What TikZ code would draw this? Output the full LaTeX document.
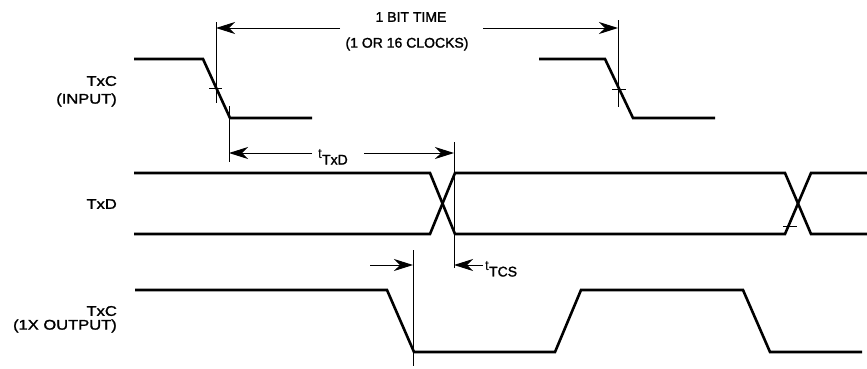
\documentclass[tikz,border=0pt]{standalone}
\usepackage{fontspec}
\setmainfont{Liberation Sans}[BoldFont={Liberation Sans},BoldFeatures={FakeBold=1.6}]
\newfontfamily\lblfont{Liberation Sans}[FakeStretch=1.18,BoldFont={Liberation Sans},BoldFeatures={FakeBold=1.6,FakeStretch=1.18}]
\usetikzlibrary{arrows.meta}
\begin{document}
\begin{tikzpicture}[x=1pt,y=-1pt,
  wave/.style={line width=2.6pt, line join=miter},
  dim/.style={line width=1pt},
  arr/.style={dim,-{Stealth[length=19pt,width=12pt,inset=6pt]}},
  txt/.style={inner sep=0pt, font=\bfseries\fontsize{14}{14}\selectfont},
  lbl/.style={inner sep=0pt, anchor=east, font=\lblfont\bfseries\fontsize{14}{14}\selectfont},
]
\useasboundingbox (0,0) rectangle (867,368);

% ---- labels
\node[lbl] (l1a) at (117,81) {TxC};
\node[lbl] (l1b) at (117,100) {(INPUT)};
\node[lbl] (l2) at (117,204) {TxD};
\node[lbl] (l3a) at (117,311) {TxC};
\node[lbl] (l3b) at (117,326) {(1X OUTPUT)};

% ---- waveforms
\draw[wave] (134,59) -- (203,59) -- (230,118) -- (312,118);
\draw[wave] (539,59) -- (605,59) -- (633,118) -- (715,118);
\draw[wave] (134,173) -- (430,173) -- (455,234) -- (785,234) -- (811,173) -- (867,173);
\draw[wave] (134,234) -- (430,234) -- (455,173) -- (785,173) -- (811,234) -- (867,234);
\draw[wave] (135,290) -- (387,290) -- (414,352) -- (555,352) -- (581,290) -- (743,290) -- (770,352) -- (862,352);

% ---- reference coordinates
\coordinate (v1t) at (216,22);  \coordinate (v1b) at (216,103);
\coordinate (v2t) at (229,106); \coordinate (v2b) at (229,162);
\coordinate (v3t) at (618,20);  \coordinate (v3b) at (618,107);
\coordinate (v4t) at (454,142); \coordinate (v4b) at (454,268);
\coordinate (v5t) at (413,250); \coordinate (v5b) at (413,366);

\draw[dim] (v1t) -- (v1b);
\draw[dim] (v2t) -- (v2b);
\draw[dim] (v3t) -- (v3b);
\draw[dim] (v4t) -- (v4b);
\draw[dim] (v5t) -- (v5b);

% tick marks
\draw[dim] (209,88) -- (222,88);
\draw[dim] (612,89) -- (626,89);
\draw[dim] (783,226) -- (797,226);

% ---- 1 bit time
\node[txt] (bit1) at (411,17) {1 BIT TIME};
\node[txt] (bit2) at (407,44) {(1 OR 16 CLOCKS)};
\coordinate (bA) at (340,28); \coordinate (bB) at (483,28);
\draw[arr] (bA) -- (216,28) coordinate (bL);
\draw[arr] (bB) -- (618,28) coordinate (bR);

% ---- tTxD
\node[txt, anchor=west] (ttxd) at (318,157) {\raisebox{6pt}{\mdseries t}TxD};
\coordinate (tA) at (312,153); \coordinate (tB) at (364,153);
\draw[arr] (tA) -- (229,153);
\draw[arr] (tB) -- (454,153);

% ---- tTCS
\coordinate (cA) at (370,265); \coordinate (cB) at (483,265);
\draw[arr] (cA) -- (413,265);
\draw[arr] (cB) -- (454,265);
\node[txt, anchor=west] (ttcs) at (485,269) {\raisebox{6pt}{\mdseries t}TCS};
\end{tikzpicture}
\end{document}
